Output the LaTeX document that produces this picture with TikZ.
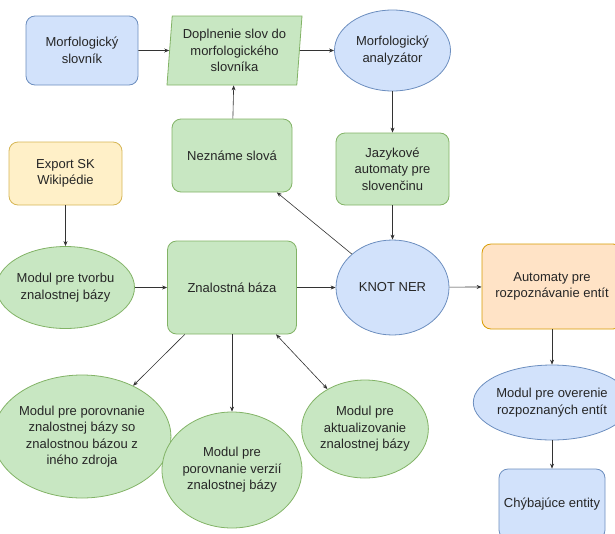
\documentclass[tikz,border=0pt]{standalone}
\usepackage{fontspec}
\setmainfont{Liberation Sans}
\usetikzlibrary{shapes.geometric,arrows.meta}
\definecolor{bluefill}{HTML}{D2E2FB}
\definecolor{bluedraw}{HTML}{6C8EBF}
\definecolor{greenfill}{HTML}{C8E7C2}
\definecolor{greendraw}{HTML}{82B366}
\definecolor{yellowfill}{HTML}{FFF0C8}
\definecolor{yellowdraw}{HTML}{D6B656}
\definecolor{orangefill}{HTML}{FFE3C6}
\definecolor{orangedraw}{HTML}{D79B00}
\begin{document}
\begin{tikzpicture}[x=1pt, y=-1pt, >={Stealth[length=5pt,width=4pt]},
        every node/.style={font=\fontsize{13}{16.5}\selectfont, text=black!85, align=center, inner sep=0pt, line width=0.8pt},
        box/.style={draw, rounded corners=9pt},
        oval/.style={draw, ellipse},
        slant/.style={draw, trapezium, trapezium left angle=83, trapezium right angle=97, trapezium stretches body},
        blue/.style={fill=bluefill, draw=bluedraw},
        green/.style={fill=greenfill, draw=greendraw},
        yellow/.style={fill=yellowfill, draw=yellowdraw},
        orange/.style={fill=orangefill, draw=orangedraw},
        link/.style={->, draw=black!80, line width=0.6pt}]
        \useasboundingbox (0,0) rectangle (615,533);
        % top row
        \node[box, blue, minimum width=112pt, minimum height=69pt] at (82, 50.5) (slovnik) {Morfologický\\slovník};
        \node[slant, green, minimum width=135pt, minimum height=69pt] at (234.5, 50.5) (doplnenie) {Doplnenie slov do\\morfologického\\slovníka};
        \node[oval, blue, minimum width=116pt, minimum height=81pt] at (392.5, 50.5) (analyzator) {Morfologický\\analyzátor};
        % second row
        \node[box, green, minimum width=120pt, minimum height=73pt] at (232, 155.5) (nezname) {Neznáme slová};
        \node[box, green, minimum width=113pt, minimum height=72pt] at (392.5, 169) (jazykove) {Jazykové\\automaty pre\\slovenčinu};
        \node[box, yellow, minimum width=113pt, minimum height=63pt] at (65.5, 173.5) (export) {Export SK\\Wikipédie};
        % middle row
        \node[oval, green, minimum width=118pt, minimum height=82pt] at (65.5, 287.5) (tvorba) {Modul pre tvorbu\\znalostnej bázy};
        \node[box, green, minimum width=129pt, minimum height=93pt] at (232, 287.5) (baza) {Znalostná báza};
        \node[oval, blue, minimum width=113pt, minimum height=95pt] at (392.5, 287.5) (knot) {KNOT NER};
        \node[box, orange, minimum width=140pt, minimum height=85pt] at (552, 286.5) (automaty) {Automaty pre\\rozpoznávanie entít};
        % bottom
        \node[oval, green, minimum width=152pt, minimum height=123pt] at (82, 436.5) (porovnanie) {Modul pre porovnanie\\znalostnej bázy so\\znalostnou bázou z\\iného zdroja};
        \node[oval, green, minimum width=126pt, minimum height=116pt] at (232, 470) (verzie) {Modul pre\\porovnanie verzií\\znalostnej bázy};
        \node[oval, green, minimum width=116pt, minimum height=98pt] at (365, 429) (aktualizacia) {Modul pre\\aktualizovanie\\znalostnej bázy};
        \node[oval, blue, minimum width=127pt, minimum height=75pt] at (552, 402.5) (overenie) {Modul pre overenie\\rozpoznaných entít};
        \node[box, blue, minimum width=106pt, minimum height=70pt] at (552, 504) (chybajuce) {Chýbajúce entity};
        % connectors
        \draw[link] (slovnik) -- (doplnenie);
        \draw[link] (doplnenie) -- (analyzator);
        \draw[link] (nezname) -- (doplnenie);
        \draw[link] (analyzator) -- (jazykove);
        \draw[link] (jazykove) -- (knot);
        \draw[link] (knot) -- (nezname);
        \draw[link] (export) -- (tvorba);
        \draw[link] (tvorba) -- (baza);
        \draw[link] (baza) -- (knot);
        \draw[link] (knot) -- (automaty);
        \draw[link] (automaty) -- (overenie);
        \draw[link] (overenie) -- (chybajuce);
        \draw[link] (baza) -- (porovnanie);
        \draw[link] (baza) -- (verzie);
        \draw[link, <->] (baza) -- (aktualizacia);
    \end{tikzpicture}
\end{document}
